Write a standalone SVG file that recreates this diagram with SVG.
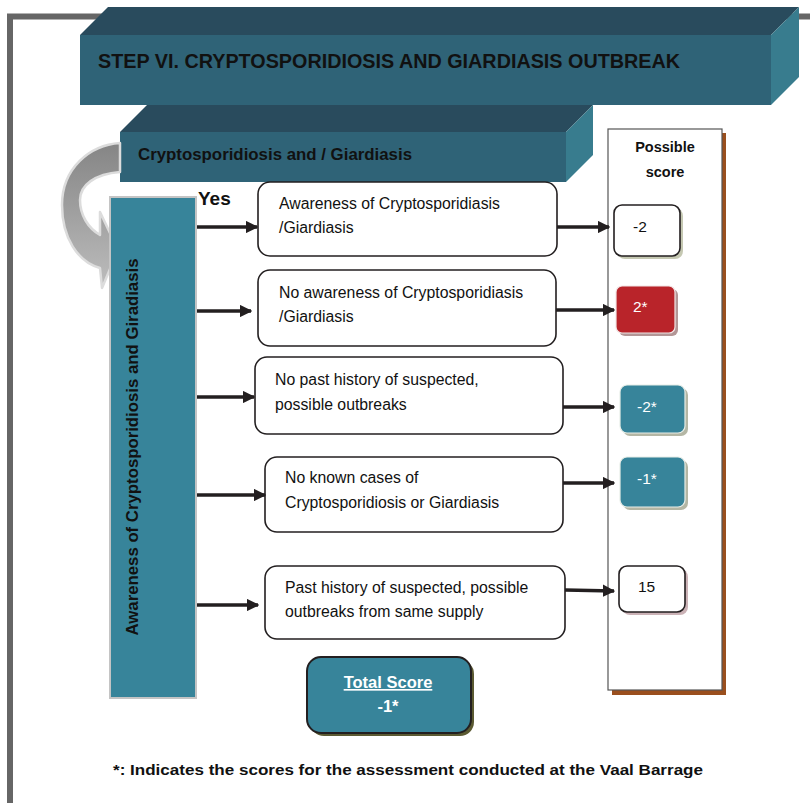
<svg xmlns="http://www.w3.org/2000/svg" width="810" height="803" viewBox="0 0 810 803">
  <defs>
    <style>
      .txt { font-family: "Liberation Sans", Arial, sans-serif; fill: #111; }
      .bold { font-weight: bold; }
      .opt { fill: #fff; stroke: #231f20; stroke-width: 1.6; }
      .otx { font-size: 15.8px; }
      .conn { stroke: #231f20; stroke-width: 3.5; fill: none; }
      .wtxt { font-family: "Liberation Sans", Arial, sans-serif; fill: #fff; }
      .teal { fill: #37849a; }
    </style>
    <marker id="head" viewBox="0 0 10 10" refX="9" refY="5" markerWidth="3.6" markerHeight="3.6" orient="auto" markerUnits="strokeWidth">
      <path d="M0,0 L10,5 L0,10 Z" fill="#231f20"/>
    </marker>
    <linearGradient id="curveGrad" x1="0" y1="0" x2="0" y2="1">
      <stop offset="0" stop-color="#858585"/>
      <stop offset="1" stop-color="#bdbdbd"/>
    </linearGradient>
  </defs>

  <rect width="810" height="803" fill="#fff"/>

  <!-- outer frame -->
  <path d="M10,803 V16.5 H810" fill="none" stroke="#666" stroke-width="6"/>

  <!-- title block -->
  <g id="title">
    <polygon points="80,35 108,7 799,7 771,35" fill="#294b5d"/>
    <polygon points="771,35 799,7 799,77 771,105" fill="#387c8e"/>
    <rect x="80" y="35" width="691" height="70" fill="#2f6377"/>
    <text class="txt bold" x="98" y="68" font-size="20.5" textLength="582" lengthAdjust="spacingAndGlyphs">STEP VI. CRYPTOSPORIDIOSIS AND GIARDIASIS OUTBREAK</text>
  </g>

  <!-- sub heading block -->
  <g id="subtitle">
    <polygon points="120,132 147,105 593,105 566,132" fill="#294b5d"/>
    <polygon points="566,132 593,105 593,155 566,182" fill="#387c8e"/>
    <rect x="120" y="132" width="446" height="50" fill="#2f6377"/>
    <text class="txt bold" x="138" y="160" font-size="16.5" textLength="274" lengthAdjust="spacingAndGlyphs">Cryptosporidiosis and / Giardiasis</text>
  </g>

  <!-- curved arrow into the side bar -->
  <g id="curved-arrow">
    <path d="M120,143 C90,145 62,168 62,205 C62,238 78,262 100,268 L102,288 L118,250 L100,212 L100,235 C88,228 80,215 80,200 C80,185 95,174 120,172 Z" fill="url(#curveGrad)" stroke="#dcdcdc" stroke-width="2.5" stroke-linejoin="round"/>
  </g>

  <!-- vertical side bar -->
  <g id="sidebar">
    <rect x="110" y="197" width="86" height="501" class="teal" stroke="#c4c4c4" stroke-width="2"/>
    <text class="txt bold" font-size="16.5" text-anchor="middle" transform="translate(138,447) rotate(-90)" textLength="377" lengthAdjust="spacingAndGlyphs">Awareness of Cryptosporidiosis and Giradiasis</text>
  </g>

  <text class="txt bold" x="198" y="205" font-size="19">Yes</text>

  <!-- option boxes -->
  <g id="opt1">
    <rect x="258" y="182" width="299" height="74" rx="12" class="opt"/>
    <text class="txt otx" x="279" y="209">Awareness of Cryptosporidiasis</text>
    <text class="txt otx" x="279" y="233">/Giardiasis</text>
  </g>
  <g id="opt2">
    <rect x="258" y="270" width="298" height="76" rx="12" class="opt"/>
    <text class="txt otx" x="279" y="298">No awareness of Cryptosporidiasis</text>
    <text class="txt otx" x="279" y="322">/Giardiasis</text>
  </g>
  <g id="opt3">
    <rect x="255" y="357" width="308" height="77" rx="12" class="opt"/>
    <text class="txt otx" x="275" y="385">No past history of suspected,</text>
    <text class="txt otx" x="275" y="410">possible outbreaks</text>
  </g>
  <g id="opt4">
    <rect x="265" y="457" width="298" height="75" rx="12" class="opt"/>
    <text class="txt otx" x="285" y="483">No known cases of</text>
    <text class="txt otx" x="285" y="508">Cryptosporidiosis or Giardiasis</text>
  </g>
  <g id="opt5">
    <rect x="265" y="566" width="300" height="73" rx="12" class="opt"/>
    <text class="txt otx" x="285" y="593">Past history of suspected, possible</text>
    <text class="txt otx" x="285" y="617">outbreaks from same supply</text>
  </g>

  <!-- score column -->
  <g id="score-column">
    <rect x="612" y="133" width="114" height="562" fill="#9a4f1e"/>
    <rect x="608" y="129" width="114" height="561" fill="#fff" stroke="#555" stroke-width="1.2"/>
    <text class="txt bold" x="665" y="152" font-size="14.5" text-anchor="middle">Possible</text>
    <text class="txt bold" x="665" y="177" font-size="14.5" text-anchor="middle">score</text>
  </g>

  <g id="score1">
    <rect x="617" y="208" width="66" height="51" rx="8" fill="#c5c8b2"/>
    <rect x="614" y="205" width="66" height="51" rx="8" fill="#fff" stroke="#231f20" stroke-width="1.6"/>
    <text class="txt" x="633" y="232" font-size="15.5">-2</text>
  </g>
  <g id="score2">
    <rect x="619" y="289" width="59" height="47" rx="6" fill="#b39696"/>
    <rect x="616" y="286" width="59" height="47" rx="6" fill="#b9242a" stroke="#f2e6e6" stroke-width="1.2"/>
    <text class="wtxt" x="633" y="312" font-size="15.5">2*</text>
  </g>
  <g id="score3">
    <rect x="623" y="388" width="65" height="48" rx="7" fill="#b4b6a4"/>
    <rect x="620" y="385" width="65" height="48" rx="7" class="teal" stroke="#e8eee8" stroke-width="1.2"/>
    <text class="wtxt" x="637" y="412" font-size="15.5">-2*</text>
  </g>
  <g id="score4">
    <rect x="623" y="460" width="65" height="50" rx="7" fill="#b4b6a4"/>
    <rect x="620" y="457" width="65" height="50" rx="7" class="teal" stroke="#e8eee8" stroke-width="1.2"/>
    <text class="wtxt" x="637" y="484" font-size="15.5">-1*</text>
  </g>
  <g id="score5">
    <rect x="622" y="569" width="66" height="46" rx="8" fill="#cbb2b6"/>
    <rect x="619" y="566" width="66" height="46" rx="8" fill="#fff" stroke="#231f20" stroke-width="1.6"/>
    <text class="txt" x="638" y="592" font-size="15.5">15</text>
  </g>

  <!-- total -->
  <g id="total">
    <rect x="310" y="660" width="164" height="76" rx="14" fill="#5b5a32"/>
    <rect x="307" y="657" width="164" height="76" rx="14" class="teal" stroke="#231f20" stroke-width="2"/>
    <text class="wtxt bold" x="388" y="688" font-size="16.5" text-anchor="middle" text-decoration="underline">Total Score</text>
    <text class="wtxt bold" x="388" y="712" font-size="16.5" text-anchor="middle">-1*</text>
  </g>

  <!-- connectors -->
  <g id="connectors">
    <line x1="197" y1="227" x2="257" y2="227" class="conn" marker-end="url(#head)"/>
    <line x1="197" y1="311" x2="251" y2="311" class="conn" marker-end="url(#head)"/>
    <line x1="197" y1="397" x2="254" y2="397" class="conn" marker-end="url(#head)"/>
    <line x1="197" y1="495" x2="265" y2="495" class="conn" marker-end="url(#head)"/>
    <line x1="197" y1="605" x2="258" y2="605" class="conn" marker-end="url(#head)"/>
    <line x1="557" y1="227" x2="609" y2="227" class="conn" marker-end="url(#head)"/>
    <line x1="556" y1="310" x2="614" y2="310" class="conn" marker-end="url(#head)"/>
    <line x1="563" y1="407" x2="614" y2="407" class="conn" marker-end="url(#head)"/>
    <line x1="563" y1="483" x2="614" y2="483" class="conn" marker-end="url(#head)"/>
    <line x1="565" y1="590" x2="614" y2="591" class="conn" marker-end="url(#head)"/>
  </g>

  <text class="txt bold" x="113" y="775" font-size="15.5" textLength="590" lengthAdjust="spacingAndGlyphs">*: Indicates the scores for the assessment conducted at the Vaal Barrage</text>
</svg>
